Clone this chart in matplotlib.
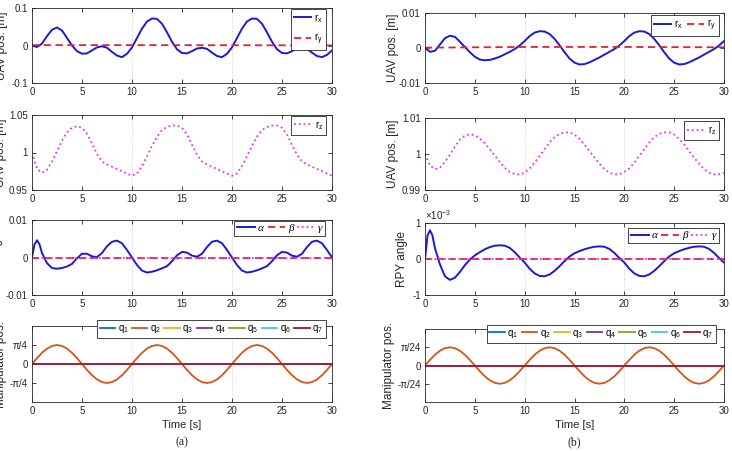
import matplotlib
matplotlib.use('Agg')
import matplotlib.pyplot as plt
import numpy as np

plt.rcParams['font.family'] = ['Liberation Sans', 'DejaVu Sans']
plt.rcParams['mathtext.fontset'] = 'custom'
plt.rcParams['mathtext.rm'] = 'Liberation Sans'
plt.rcParams['mathtext.it'] = 'Liberation Sans:italic'

# time grid used for readings (s)
t = [i * 0.5 for i in range(61)]
# finer start for the sharp early peaks of alpha
t_fine = [0, 0.25, 0.5, 0.75] + [1.0 + i * 0.5 for i in range(59)]

# ---------- (a) ----------
rx_a = [0, -0.004, 0.005, 0.025, 0.042, 0.048, 0.040, 0.020, 0.0, -0.015,
        -0.022, -0.021, -0.013, -0.005, -0.002, -0.006, -0.017, -0.027, -0.031, -0.022,
        -0.005, 0.020, 0.045, 0.064, 0.072, 0.071, 0.058, 0.035, 0.010, -0.010,
        -0.020, -0.021, -0.015, -0.008, -0.006, -0.009, -0.019, -0.028, -0.031, -0.022,
        -0.005, 0.020, 0.045, 0.064, 0.072, 0.071, 0.058, 0.035, 0.010, -0.010,
        -0.020, -0.021, -0.015, -0.008, -0.006, -0.009, -0.019, -0.028, -0.031, -0.025,
        -0.013]
ry_t = [0, 10, 20, 30]
ry_a = [0.001, 0.001, 0.0007, 0.0003]
rz_a = [1.000, 0.978, 0.973, 0.977, 0.988, 1.002, 1.016, 1.027, 1.033, 1.035,
        1.033, 1.025, 1.012, 0.998, 0.988, 0.984, 0.981, 0.978, 0.975, 0.972,
        0.969, 0.972, 0.982, 0.995, 1.009, 1.021, 1.030, 1.034, 1.036, 1.036,
        1.033, 1.024, 1.010, 0.997, 0.988, 0.984, 0.981, 0.978, 0.975, 0.972,
        0.969, 0.972, 0.982, 0.995, 1.009, 1.021, 1.030, 1.034, 1.036, 1.036,
        1.033, 1.024, 1.010, 0.997, 0.988, 0.984, 0.981, 0.978, 0.975, 0.972,
        0.969]
alpha_a = [0, 0.0035, 0.0046, 0.0035, 0.0012, -0.0015, -0.0028, -0.0030, -0.0028, -0.0024,
           -0.0017, -0.0002, 0.0010, 0.0010, 0.0003, 0.0001, 0.0012, 0.0030, 0.0042, 0.0045,
           0.0038, 0.0020, 0.0000, -0.0020, -0.0035, -0.0040, -0.0038, -0.0034, -0.0029, -0.0023,
           -0.0010, 0.0006, 0.0015, 0.0013, 0.0005, 0.0002, 0.0010, 0.0028, 0.0042, 0.0045,
           0.0038, 0.0020, 0.0000, -0.0020, -0.0035, -0.0040, -0.0038, -0.0034, -0.0029, -0.0023,
           -0.0010, 0.0006, 0.0015, 0.0013, 0.0005, 0.0002, 0.0010, 0.0028, 0.0042, 0.0045,
           0.0038, 0.0020, 0.0000]
# q2 in units of pi/4
q2_a = [0, 0.31, 0.59, 0.81, 0.95, 1.0, 0.95, 0.81, 0.59, 0.31,
        0, -0.31, -0.59, -0.81, -0.95, -1.0, -0.95, -0.81, -0.59, -0.31,
        0, 0.31, 0.59, 0.81, 0.95, 1.0, 0.95, 0.81, 0.59, 0.31,
        0, -0.31, -0.59, -0.81, -0.95, -1.0, -0.95, -0.81, -0.59, -0.31,
        0, 0.31, 0.59, 0.81, 0.95, 1.0, 0.95, 0.81, 0.59, 0.31,
        0, -0.31, -0.59, -0.81, -0.95, -1.0, -0.95, -0.81, -0.59, -0.31,
        0]

# ---------- (b) ----------
rx_b = [0, -0.0011, -0.0008, 0.0010, 0.0028, 0.0035, 0.0032, 0.0018, 0.0003, -0.0012,
        -0.0025, -0.0033, -0.0035, -0.0034, -0.0030, -0.0025, -0.0018, -0.0011, -0.0003, 0.0007,
        0.0020, 0.0034, 0.0044, 0.0048, 0.0047, 0.0040, 0.0026, 0.0008, -0.0012, -0.0030,
        -0.0042, -0.0047, -0.0046, -0.0041, -0.0034, -0.0027, -0.0019, -0.0011, -0.0003, 0.0007,
        0.0020, 0.0034, 0.0044, 0.0048, 0.0047, 0.0040, 0.0026, 0.0008, -0.0012, -0.0030,
        -0.0042, -0.0047, -0.0046, -0.0041, -0.0034, -0.0027, -0.0019, -0.0011, -0.0003, 0.0007,
        0.0020]
ry_b = [0.0001, 0.0003, 0.0003, 0.0002]
rz_b = [1.0000, 0.9968, 0.9958, 0.9962, 0.9978, 0.9998, 1.0020, 1.0040, 1.0051, 1.0055,
        1.0052, 1.0043, 1.0030, 1.0013, 0.9996, 0.9978, 0.9962, 0.9950, 0.9944, 0.9943,
        0.9948, 0.9960, 0.9976, 0.9995, 1.0014, 1.0032, 1.0047, 1.0056, 1.0060, 1.0060,
        1.0054, 1.0042, 1.0026, 1.0008, 0.9990, 0.9973, 0.9958, 0.9948, 0.9943, 0.9944,
        0.9950, 0.9960, 0.9976, 0.9995, 1.0014, 1.0032, 1.0047, 1.0056, 1.0060, 1.0060,
        1.0054, 1.0042, 1.0026, 1.0008, 0.9990, 0.9973, 0.9958, 0.9948, 0.9943, 0.9944,
        0.9947]
# alpha in units of 1e-3
alpha_b = [0, 0.65, 0.80, 0.65, 0.30, -0.15, -0.48, -0.58, -0.52, -0.36,
           -0.17, -0.02, 0.10, 0.19, 0.27, 0.33, 0.37, 0.38, 0.37, 0.31,
           0.19, 0.04, -0.10, -0.27, -0.40, -0.47, -0.48, -0.43, -0.33, -0.20,
           -0.06, 0.07, 0.16, 0.22, 0.27, 0.31, 0.34, 0.35, 0.34, 0.28,
           0.17, 0.03, -0.10, -0.27, -0.40, -0.47, -0.48, -0.43, -0.33, -0.20,
           -0.06, 0.07, 0.16, 0.22, 0.27, 0.31, 0.34, 0.35, 0.34, 0.28,
           0.17, 0.03, -0.10]
# q2 in units of pi/24
q2_b = q2_a

q_colors = ['#0072BD', '#D95319', '#EDB120', '#7E2F8E', '#77AC30', '#4DBEEE', '#A2142F']
q_names = ['q$_\\mathregular{%d}$' % (i + 1) for i in range(7)]

BLUE = '#1a1ad6'
RED = '#e8202a'
MAG = '#f030f0'
AX = '#262626'

W, H = 732, 451
fig = plt.figure(figsize=(W / 100, H / 100), dpi=100)


def make_ax(x0, x1, y0, y1):
    ax = fig.add_axes([x0 / W, 1 - y1 / H, (x1 - x0) / W, (y1 - y0) / H])
    ax.set_xlim(0, 30)
    ax.set_xticks(range(0, 31, 5))
    for s in ax.spines.values():
        s.set_color(AX)
        s.set_linewidth(0.6)
    ax.tick_params(direction='in', top=True, right=True, length=3, width=0.6,
                   labelsize=7, colors=AX, pad=3)
    for xv in (10, 20):
        ax.axvline(xv, color='#cfcfcf', ls=':', lw=0.7, zorder=0)
    return ax


def leg(ax, anchor, ncol=1, **kw):
    opts = dict(loc='upper right', bbox_to_anchor=anchor, borderaxespad=0, ncol=ncol,
                fontsize=7, frameon=True, fancybox=False, framealpha=1,
                handlelength=1.8, handletextpad=0.3, borderpad=0.3,
                columnspacing=0.4)
    opts.update(kw)
    lg = ax.legend(**opts)
    lg.get_frame().set_edgecolor(AX)
    lg.get_frame().set_linewidth(0.6)
    return lg


def greek(lg):
    for tx in lg.get_texts():
        tx.set_fontfamily('Liberation Serif')
        tx.set_fontstyle('italic')
        tx.set_fontsize(8)


def ylab(ax, text, xpos):
    ax.set_ylabel(text, fontsize=8.5, color=AX)
    ax.yaxis.set_label_coords(xpos, 0.5)


cols = [
    dict(x0=32, x1=332, rows=[(8, 83), (115, 190), (220, 295), (326, 402)],
         lab_x=[-0.08, -0.083, -0.097, -0.083]),
    dict(x0=425, x1=724, rows=[(13, 83), (118, 190), (223, 295), (329, 402)],
         lab_x=[-0.087, -0.087, -0.057, -0.1]),
]

dash = (0, (4, 2.5))

# ----- column (a) -----
c = cols[0]
ax = make_ax(c['x0'], c['x1'], *c['rows'][0])
ax.plot(t, rx_a, color=BLUE, lw=1.4, label='r$_\\mathregular{x}$')
ax.plot(ry_t, ry_a, color=RED, lw=1.3, ls=dash, label='r$_\\mathregular{y}$')
ax.set_ylim(-0.1, 0.1)
ax.set_yticks([-0.1, 0, 0.1])
ax.set_yticklabels(['-0.1', '0', '0.1'])
ylab(ax, 'UAV pos. [m]', c['lab_x'][0])
leg(ax, (0.98, 0.987), labelspacing=0.7)

ax = make_ax(c['x0'], c['x1'], *c['rows'][1])
ax.plot(t, rz_a, color=MAG, lw=1.3, ls=':', label='r$_\\mathregular{z}$')
ax.set_ylim(0.95, 1.05)
ax.set_yticks([0.95, 1, 1.05])
ax.set_yticklabels(['0.95', '1', '1.05'])
ylab(ax, 'UAV pos. [m]', c['lab_x'][1])
leg(ax, (0.98, 0.987))

ax = make_ax(c['x0'], c['x1'], *c['rows'][2])
ax.plot(t_fine, alpha_a, color=BLUE, lw=1.4, label='α')
ax.plot(ry_t, [0, 0, 0, 0], color=RED, lw=1.3, ls=dash, label='β')
ax.plot(ry_t, [0, 0, 0, 0], color=MAG, lw=1.3, ls=':', label='γ')
ax.set_ylim(-0.01, 0.01)
ax.set_yticks([-0.01, 0, 0.01])
ax.set_yticklabels(['-0.01', '0', '0.01'])
ylab(ax, 'RPY angle', c['lab_x'][2])
greek(leg(ax, (0.977, 0.987), ncol=3))

ax = make_ax(c['x0'], c['x1'], *c['rows'][3])
for i in range(7):
    vals = [v * np.pi / 4 for v in q2_a] if i == 1 else [0] * len(t)
    ax.plot(t, vals, color=q_colors[i], lw=1.3, label=q_names[i])
ax.set_ylim(-np.pi / 2, np.pi / 2)
ax.set_yticks([-np.pi / 4, 0, np.pi / 4])
ax.set_yticklabels(['-π/4', '0', 'π/4'])
ylab(ax, 'Manipulator pos.', c['lab_x'][3])
ax.set_xlabel('Time [s]', fontsize=8, color=AX, labelpad=3)
leg(ax, (0.98, 1.079), ncol=7, handlelength=1.6, handletextpad=0.25, columnspacing=0.35)
fig.text((c['x0'] + c['x1']) / 2 / W, 1 - 442 / H, '(a)', ha='center', va='center',
         fontsize=8.5, family='Liberation Serif', color=AX)

# ----- column (b) -----
c = cols[1]
ax = make_ax(c['x0'], c['x1'], *c['rows'][0])
ax.plot(t, rx_b, color=BLUE, lw=1.4, label='r$_\\mathregular{x}$')
ax.plot(ry_t, ry_b, color=RED, lw=1.3, ls=dash, label='r$_\\mathregular{y}$')
ax.set_ylim(-0.01, 0.01)
ax.set_yticks([-0.01, 0, 0.01])
ax.set_yticklabels(['-0.01', '0', '0.01'])
ylab(ax, 'UAV pos. [m]', c['lab_x'][0])
leg(ax, (0.983, 0.971), ncol=2)

ax = make_ax(c['x0'], c['x1'], *c['rows'][1])
ax.plot(t, rz_b, color=MAG, lw=1.3, ls=':', label='r$_\\mathregular{z}$')
ax.set_ylim(0.99, 1.01)
ax.set_yticks([0.99, 1, 1.01])
ax.set_yticklabels(['0.99', '1', '1.01'])
ylab(ax, 'UAV pos. [m]', c['lab_x'][1])
leg(ax, (0.983, 0.958))

ax = make_ax(c['x0'], c['x1'], *c['rows'][2])
ax.plot(t_fine, alpha_b, color=BLUE, lw=1.4, label='α')
ax.plot(ry_t, [0, 0, 0, 0], color=RED, lw=1.3, ls=dash, label='β')
ax.plot(ry_t, [0, 0, 0, 0], color=MAG, lw=1.3, ls=':', label='γ')
ax.set_ylim(-1, 1)
ax.set_yticks([-1, 0, 1])
ax.set_yticklabels(['-1', '0', '1'])
ax.text(0.0, 1.015, '$\\mathregular{\\times 10^{-3}}$', transform=ax.transAxes,
        fontsize=7, color=AX, ha='left', va='bottom')
ylab(ax, 'RPY angle', c['lab_x'][2])
greek(leg(ax, (0.983, 0.93), ncol=3))

ax = make_ax(c['x0'], c['x1'], *c['rows'][3])
for i in range(7):
    vals = [v * np.pi / 24 for v in q2_b] if i == 1 else [0] * len(t)
    ax.plot(t, vals, color=q_colors[i], lw=1.3, label=q_names[i])
ax.set_ylim(-np.pi / 12, np.pi / 12)
ax.set_yticks([-np.pi / 24, 0, np.pi / 24])
ax.set_yticklabels(['-π/24', '0', 'π/24'])
ylab(ax, 'Manipulator pos.', c['lab_x'][3])
ax.set_xlabel('Time [s]', fontsize=8, color=AX, labelpad=3)
leg(ax, (0.973, 1.055), ncol=7, handlelength=1.6, handletextpad=0.25, columnspacing=0.35)
fig.text((c['x0'] + c['x1']) / 2 / W, 1 - 442 / H, '(b)', ha='center', va='center',
         fontsize=8.5, family='Liberation Serif', color=AX)

fig.savefig('out.png', dpi=100)
